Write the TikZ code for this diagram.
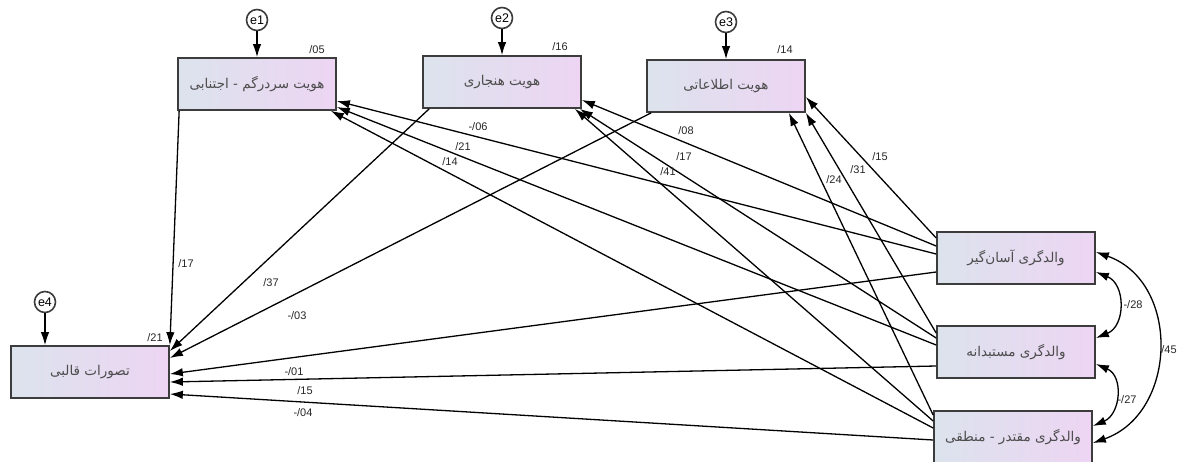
\documentclass[tikz,border=0pt]{standalone}
\usepackage{fontspec}
\setmainfont{Liberation Sans}
\newfontfamily\fafont[Script=Arabic]{DejaVu Sans}
\TeXXeTstate=1
\usetikzlibrary{arrows.meta,calc}
\definecolor{boxleft}{RGB}{220,227,237}
\definecolor{boxright}{RGB}{237,213,243}
\definecolor{boxline}{RGB}{60,60,60}
\tikzset{
  var/.style={draw=boxline, line width=1.7pt, left color=boxleft, right color=boxright,
    minimum width=158pt, minimum height=52pt, inner sep=0pt,
    font=\fafont\fontsize{13.5}{15}\selectfont, text=black!70},
  err/.style={circle, draw=boxline, line width=1.6pt, fill=white, minimum size=21pt,
    inner sep=0pt, font=\fontsize{12.5}{14}\selectfont},
  coef/.style={font=\fontsize{11}{13}\selectfont, inner sep=1pt, text=black!85},
  reg/.style={->, line width=1.3pt},
  cov/.style={<->, line width=1.3pt}
}
\begin{document}
\begin{tikzpicture}[x=1pt, y=-1pt, >={Latex[length=13pt,width=8.5pt]}]
   \useasboundingbox (0,0) rectangle (1182,461);
   \node[var] (b1) at (257,84) {\beginR هویت سردرگم - اجتنابی\endR};
   \node[var] (b2) at (502,82) {\beginR هویت هنجاری\endR};
   \node[var] (b3) at (726,86) {\beginR هویت اطلاعاتی\endR};
   \node[var] (tq) at (90,372) {\beginR تصورات قالبی\endR};
   \node[var] (r1) at (1016,258) {\beginR والدگری آسان‌گیر\endR};
   \node[var] (r2) at (1016,352) {\beginR والدگری مستبدانه\endR};
   \node[var] (r3) at (1013,437) {\beginR والدگری مقتدر - منطقی\endR};
   \node[err] (e1) at (257,20) {e1};
   \node[err] (e2) at (502,18) {e2};
   \node[err] (e3) at (726,22) {e3};
   \node[err] (e4) at (45,302) {e4};
   \draw[reg] (e1) -- (b1.north);
   \draw[reg] (e2) -- (b2.north);
   \draw[reg] (e3) -- (b3.north);
   \draw[reg] (e4) -- (e4.south |- tq.north);
   \draw[reg] ($(b1.south west)+(2,0)$) -- (tq.north east);
   \draw[reg] ($(b2.south west)+(7,0)$) -- ($(tq.east)+(0,-21)$);
   \draw[reg] ($(b3.south west)+(5,0)$) -- ($(tq.east)+(0,-14)$);
   \draw[reg] ($(r1.west)+(0,14)$) -- ($(tq.east)+(0,2)$);
   \draw[reg] ($(r2.west)+(0,14)$) -- ($(tq.east)+(0,10)$);
   \draw[reg] ($(r3.west)+(0,3)$) -- ($(tq.east)+(0,22)$);
   \draw[reg] ($(r1.west)+(0,-4)$) -- ($(b1.east)+(0,17)$);
   \draw[reg] ($(r2.west)+(0,-7)$) -- ($(b1.east)+(0,23)$);
   \draw[reg] ($(r3.west)+(0,-9)$) -- ($(b1.south east)+(-6,0)$);
   \draw[reg] ($(r1.west)+(0,-12)$) -- ($(b2.east)+(0,18)$);
   \draw[reg] ($(r2.west)+(0,-14)$) -- ($(b2.south east)+(-2,0)$);
   \draw[reg] ($(r3.west)+(0,-16)$) -- ($(b2.south east)+(-7,0)$);
   \draw[reg] ($(r1.west)+(0,-20)$) -- ($(b3.east)+(0,11)$);
   \draw[reg] ($(r2.west)+(0,-19)$) -- (b3.south east);
   \draw[reg] ($(r3.west)+(0,-22)$) -- ($(b3.south east)+(-17,0)$);
   \draw[cov] ($(r1.east)+(0,14)$) .. controls +(30,12) and +(30,-12) .. ($(r2.east)+(0,-14)$);
   \draw[cov] ($(r2.east)+(0,12)$) .. controls +(28,12) and +(28,-12) .. ($(r3.east)+(0,-11)$);
   \draw[cov] ($(r1.east)+(0,-6)$) .. controls +(85,30) and +(85,-30) .. ($(r3.east)+(0,6)$);
   \node[coef] (s1) at (317,50) {/05};
   \node[coef] (s2) at (560,47) {/16};
   \node[coef] (s3) at (785,50) {/14};
   \node[coef] (s4) at (155,338) {/21};
   \node[coef] (k1) at (186,264) {/17};
   \node[coef] (k2) at (271,283) {/37};
   \node[coef] (k3) at (297,316) {-/03};
   \node[coef] (k4) at (294,372) {-/01};
   \node[coef] (k5) at (305,391) {/15};
   \node[coef] (k6) at (303,413) {-/04};
   \node[coef] (k7) at (478,127) {-/06};
   \node[coef] (k8) at (463,147) {/21};
   \node[coef] (k9) at (450,162) {/14};
   \node[coef] (k10) at (686,131) {/08};
   \node[coef] (k11) at (684,157) {/17};
   \node[coef] (k12) at (668,172) {/41};
   \node[coef] (k13) at (880,157) {/15};
   \node[coef] (k14) at (858,170) {/31};
   \node[coef] (k15) at (834,180) {/24};
   \node[coef] (c1) at (1133,305) {-/28};
   \node[coef] (c2) at (1127,400) {-/27};
   \node[coef] (c3) at (1169,350) {/45};
\end{tikzpicture}
\end{document}
